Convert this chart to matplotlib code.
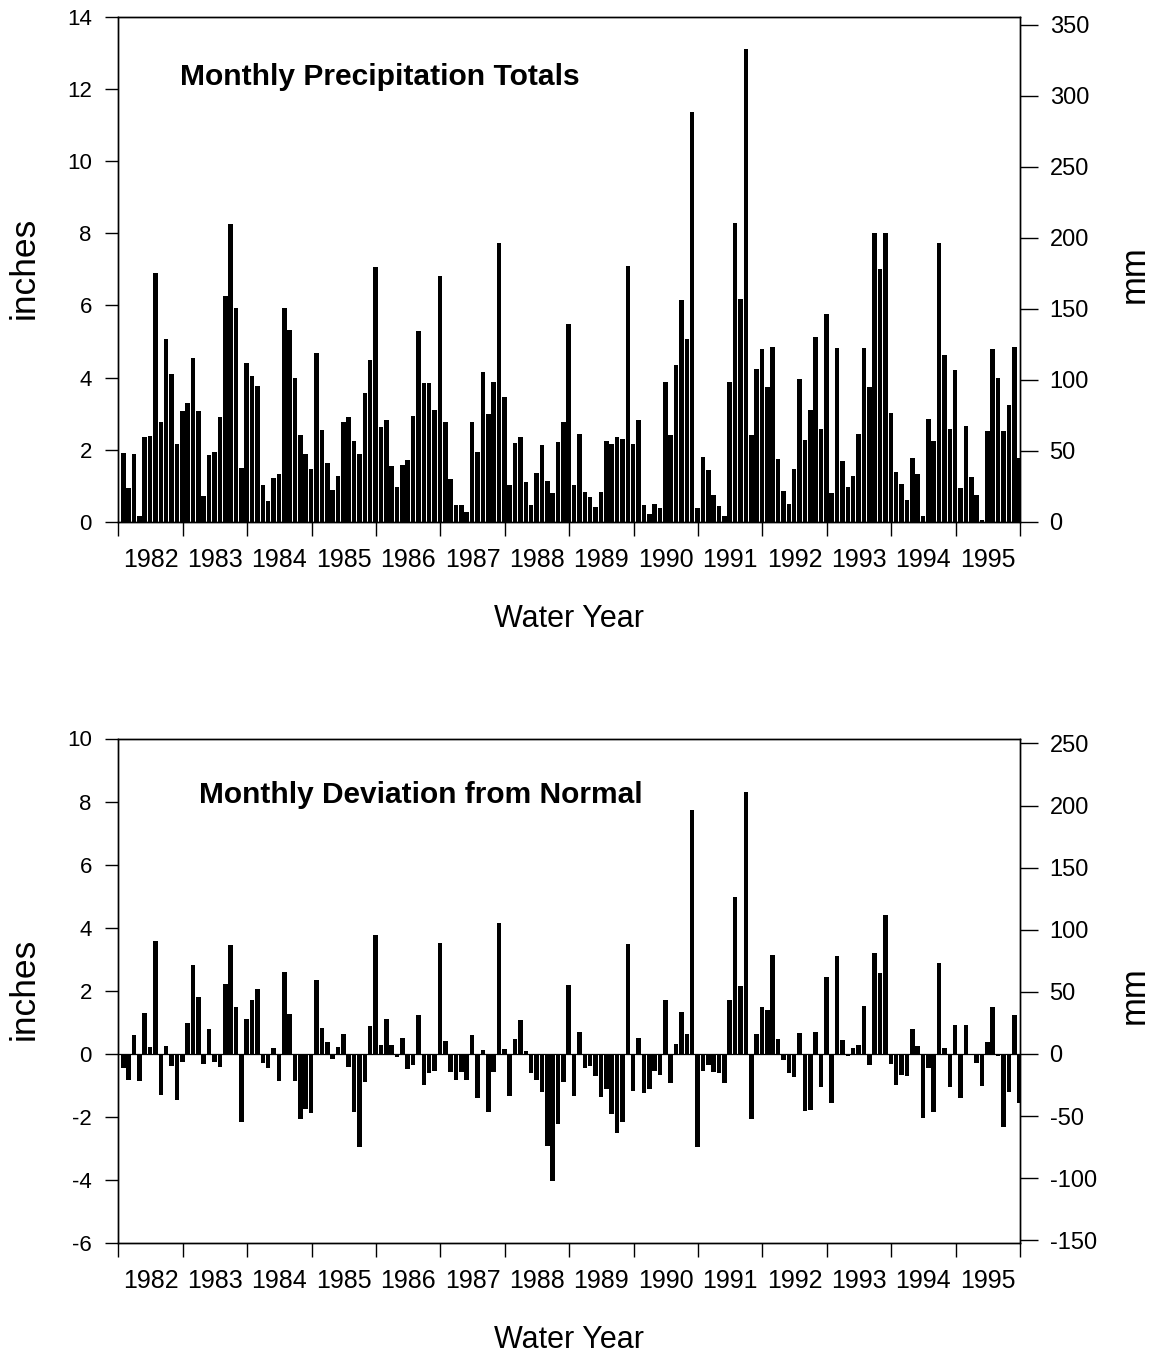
import numpy as np
import matplotlib
matplotlib.use("Agg")
import matplotlib.pyplot as plt

plt.rcParams['font.family'] = ['Liberation Sans', 'DejaVu Sans']
plt.rcParams['axes.unicode_minus'] = False

water_years = list(range(1982, 1996))

# monthly totals, inches, Oct..Sep for each water year
precip_in = [
    1.90, 0.95, 1.88, 0.18, 2.36, 2.38, 6.90, 2.76, 5.06, 4.09, 2.16, 3.07,   # 1982
    3.30, 4.55, 3.07, 0.72, 1.85, 1.95, 2.92, 6.26, 8.25, 5.92, 1.49, 4.41,   # 1983
    4.04, 3.78, 1.02, 0.58, 1.23, 1.33, 5.92, 5.32, 3.99, 2.41, 1.89, 1.46,   # 1984
    4.67, 2.54, 1.64, 0.89, 1.27, 2.78, 2.90, 2.25, 1.89, 3.57, 4.49, 7.07,   # 1985
    2.62, 2.83, 1.56, 0.96, 1.57, 1.72, 2.95, 5.30, 3.85, 3.86, 3.10, 6.81,   # 1986
    2.76, 1.19, 0.48, 0.47, 0.29, 2.76, 1.95, 4.17, 3.00, 3.89, 7.74, 3.47,   # 1987
    1.03, 2.20, 2.35, 1.10, 0.48, 1.36, 2.14, 1.15, 0.80, 2.23, 2.76, 5.49,   # 1988
    1.02, 2.43, 0.84, 0.68, 0.41, 0.83, 2.25, 2.17, 2.36, 2.31, 7.10, 2.15,   # 1989
    2.84, 0.48, 0.21, 0.50, 0.38, 3.88, 2.42, 4.35, 6.15, 5.08, 11.36, 0.39,  # 1990
    1.80, 1.43, 0.74, 0.44, 0.17, 3.88, 8.29, 6.19, 13.11, 2.42, 4.24, 4.80,  # 1991
    3.75, 4.86, 1.75, 0.86, 0.50, 1.46, 3.96, 2.28, 3.09, 5.13, 2.58, 5.76,   # 1992
    0.79, 4.82, 1.70, 0.98, 1.28, 2.44, 4.82, 3.73, 8.02, 7.01, 8.00, 3.02,   # 1993
    1.38, 1.06, 0.60, 1.77, 1.32, 0.16, 2.86, 2.24, 7.72, 4.62, 2.59, 4.22,   # 1994
    0.95, 2.66, 1.26, 0.76, 0.05, 2.53, 4.80, 4.00, 2.52, 3.24, 4.85, 1.78,   # 1995
]

# departure from the monthly normal, inches
deviation_in = [
    -0.45, -0.81, 0.61, -0.87, 1.30, 0.23, 3.59, -1.31, 0.25, -0.38, -1.47, -0.26,   # 1982
    0.97, 2.82, 1.81, -0.33, 0.80, -0.25, -0.42, 2.22, 3.44, 1.50, -2.14, 1.11,      # 1983
    1.71, 2.05, -0.30, -0.45, 0.18, -0.87, 2.61, 1.27, -0.84, -2.07, -1.75, -1.87,   # 1984
    2.35, 0.81, 0.37, -0.15, 0.21, 0.63, -0.42, -1.83, -2.96, -0.89, 0.89, 3.77,     # 1985
    0.29, 1.11, 0.30, -0.08, 0.52, -0.46, -0.34, 1.25, -0.99, -0.60, -0.55, 3.51,    # 1986
    0.42, -0.58, -0.81, -0.56, -0.81, 0.60, -1.38, 0.13, -1.85, -0.58, 4.14, 0.16,   # 1987
    -1.33, 0.46, 1.09, 0.10, -0.60, -0.82, -1.19, -2.92, -4.03, -2.23, -0.89, 2.19,  # 1988
    -1.33, 0.71, -0.45, -0.37, -0.69, -1.35, -1.10, -1.90, -2.49, -2.16, 3.48, -1.18,  # 1989
    0.51, -1.25, -1.10, -0.54, -0.68, 1.72, -0.92, 0.31, 1.34, 0.63, 7.73, -2.96,    # 1990
    -0.55, -0.35, -0.56, -0.60, -0.93, 1.72, 4.97, 2.14, 8.30, -2.07, 0.63, 1.48,    # 1991
    1.41, 3.14, 0.48, -0.18, -0.59, -0.73, 0.65, -1.80, -1.76, 0.69, -1.06, 2.44,    # 1992
    -1.55, 3.10, 0.43, -0.05, 0.20, 0.27, 1.51, -0.34, 3.21, 2.57, 4.40, -0.32,      # 1993
    -0.97, -0.68, -0.69, 0.78, 0.26, -2.02, -0.45, -1.84, 2.90, 0.18, -1.04, 0.91,   # 1994
    -1.39, 0.93, -0.03, -0.27, -1.03, 0.38, 1.49, -0.06, -2.30, -1.21, 1.25, -1.54,  # 1995
]

MM_PER_IN = 25.4
W, H = 1154, 1353


def fx(px):
    return px / W


def fy(py):
    return 1 - py / H


fig = plt.figure(figsize=(W / 100, H / 100), dpi=100)

n_months = 12 * len(water_years)
months = np.arange(n_months) + 0.5


def setup(ax, ylim, yticks, mm_ticks):
    ax.set_xlim(0, n_months)
    ax.set_ylim(*ylim)
    ax.set_yticks(yticks)
    ax.set_xticks(np.arange(0, n_months + 1, 12))
    ax.set_xticklabels([])
    ax.set_xticks(np.arange(6, n_months, 12), minor=True)
    ax.set_xticklabels([str(y) for y in water_years], minor=True)
    ax.tick_params(axis='x', which='major', direction='out', length=10, width=1)
    ax.tick_params(axis='x', which='minor', length=0, pad=18.5, labelsize=18)
    ax.tick_params(axis='y', direction='out', length=9.4, width=1, pad=9.7, labelsize=16)
    for s in ax.spines.values():
        s.set_linewidth(1.0)

    ar = ax.twinx()
    ar.set_ylim(ylim[0] * MM_PER_IN, ylim[1] * MM_PER_IN)
    ar.set_yticks(mm_ticks)
    ar.tick_params(axis='y', direction='out', length=13, width=1, pad=8.3, labelsize=17)
    for s in ar.spines.values():
        s.set_linewidth(1.0)
    return ar


ax1 = fig.add_axes([fx(118.3), fy(522), (1020 - 118.3) / W, (522 - 16.8) / H])
ax1.bar(months, precip_in, width=0.85, align='edge', color='black', linewidth=0)
setup(ax1, (0, 14), np.arange(0, 15, 2), np.arange(0, 351, 50))

ax2 = fig.add_axes([fx(118.3), fy(1243.3), (1020 - 118.3) / W, (1243.3 - 738.5) / H])
ax2.bar(months, deviation_in, width=0.85, align='edge', color='black', linewidth=0)
ax2.axhline(0, color='black', lw=0.9)
setup(ax2, (-6, 10), np.arange(-6, 11, 2), np.arange(-150, 251, 50))

# panel titles and axis labels
fig.text(fx(180), fy(85), 'Monthly Precipitation Totals', fontsize=21.6,
         fontweight='bold', ha='left', va='baseline')
fig.text(fx(199), fy(803.3), 'Monthly Deviation from Normal', fontsize=21.5,
         fontweight='bold', ha='left', va='baseline')

for base, mid_in, mid_mm in [(626.5, 268, 274.5), (1347.8, 989, 995)]:
    fig.text(fx(569.2), fy(base), 'Water Year', fontsize=22,
             ha='center', va='baseline')
    fig.text(fx(33.3), fy(mid_in), 'inches', fontsize=25.5, rotation=90,
             rotation_mode='anchor', ha='center', va='baseline')
    fig.text(fx(1143.3), fy(mid_mm), 'mm', fontsize=25, rotation=90,
             rotation_mode='anchor', ha='center', va='baseline')

fig.savefig('out.png', dpi=100)
